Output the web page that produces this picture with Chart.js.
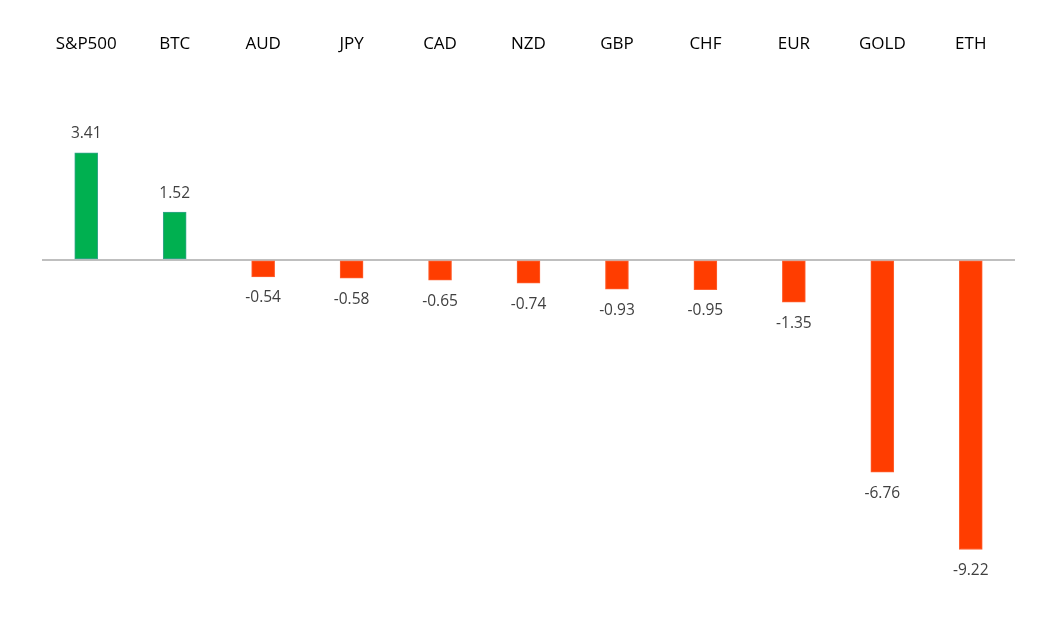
<!DOCTYPE html>
<html>
<head>
<meta charset="utf-8">
<script src="https://cdn.jsdelivr.net/npm/chart.js@4.4.1/dist/chart.umd.min.js"></script>
<style>
  body { margin: 0; background: #fff; }
  #wrap { width: 1061px; height: 617px; }
</style>
</head>
<body>
<div id="wrap"><canvas id="chart"></canvas></div>
<script>
// weekly % change per asset
const assets = ["S&P500", "BTC", "AUD", "JPY", "CAD", "NZD", "GBP", "CHF", "EUR", "GOLD", "ETH"];
const changes = [3.41, 1.52, -0.54, -0.58, -0.65, -0.74, -0.93, -0.95, -1.35, -6.76, -9.22];

const upColor = "#00B050";
const downColor = "#FF3D00";

// draw the value next to the end of each bar
const valueLabels = {
  id: "valueLabels",
  afterDatasetsDraw(chart) {
    const ctx = chart.ctx;
    const meta = chart.getDatasetMeta(0);
    ctx.save();
    ctx.font = "15.5px 'Open Sans', sans-serif";
    ctx.fillStyle = "#404040";
    ctx.textAlign = "center";
    ctx.textBaseline = "middle";
    meta.data.forEach((bar, i) => {
      const v = changes[i];
      const y = v >= 0 ? bar.y - 19 : bar.y + 21;
      ctx.fillText(v.toFixed(2), bar.x, y);
    });
    ctx.restore();
  }
};

new Chart(document.getElementById("chart"), {
  type: "bar",
  data: {
    labels: assets,
    datasets: [{
      data: changes,
      backgroundColor: changes.map(v => v >= 0 ? upColor : downColor),
      borderColor: changes.map(v => v >= 0 ? "#35A58C" : "#FF6030"),
      borderWidth: 1,
      borderSkipped: false,
      barThickness: 23
    }]
  },
  options: {
    responsive: true,
    maintainAspectRatio: false,
    animation: false,
    layout: { padding: { left: 42, right: 46, top: 17, bottom: 43 } },
    plugins: {
      legend: { display: false },
      tooltip: { enabled: false }
    },
    scales: {
      x: {
        position: "top",
        grid: { display: false, drawTicks: false },
        border: { display: false },
        ticks: {
          color: "#000",
          font: { family: "'Open Sans', sans-serif", size: 17 },
          padding: 17,
          maxRotation: 0
        }
      },
      y: {
        min: -10,
        max: 6,
        grid: {
          drawTicks: false,
          color: c => c.tick.value === 0 ? "#BFBFBF" : "transparent",
          lineWidth: 2
        },
        border: { display: false },
        ticks: { display: false, stepSize: 2 }
      }
    }
  },
  plugins: [valueLabels]
});
</script>
</body>
</html>
